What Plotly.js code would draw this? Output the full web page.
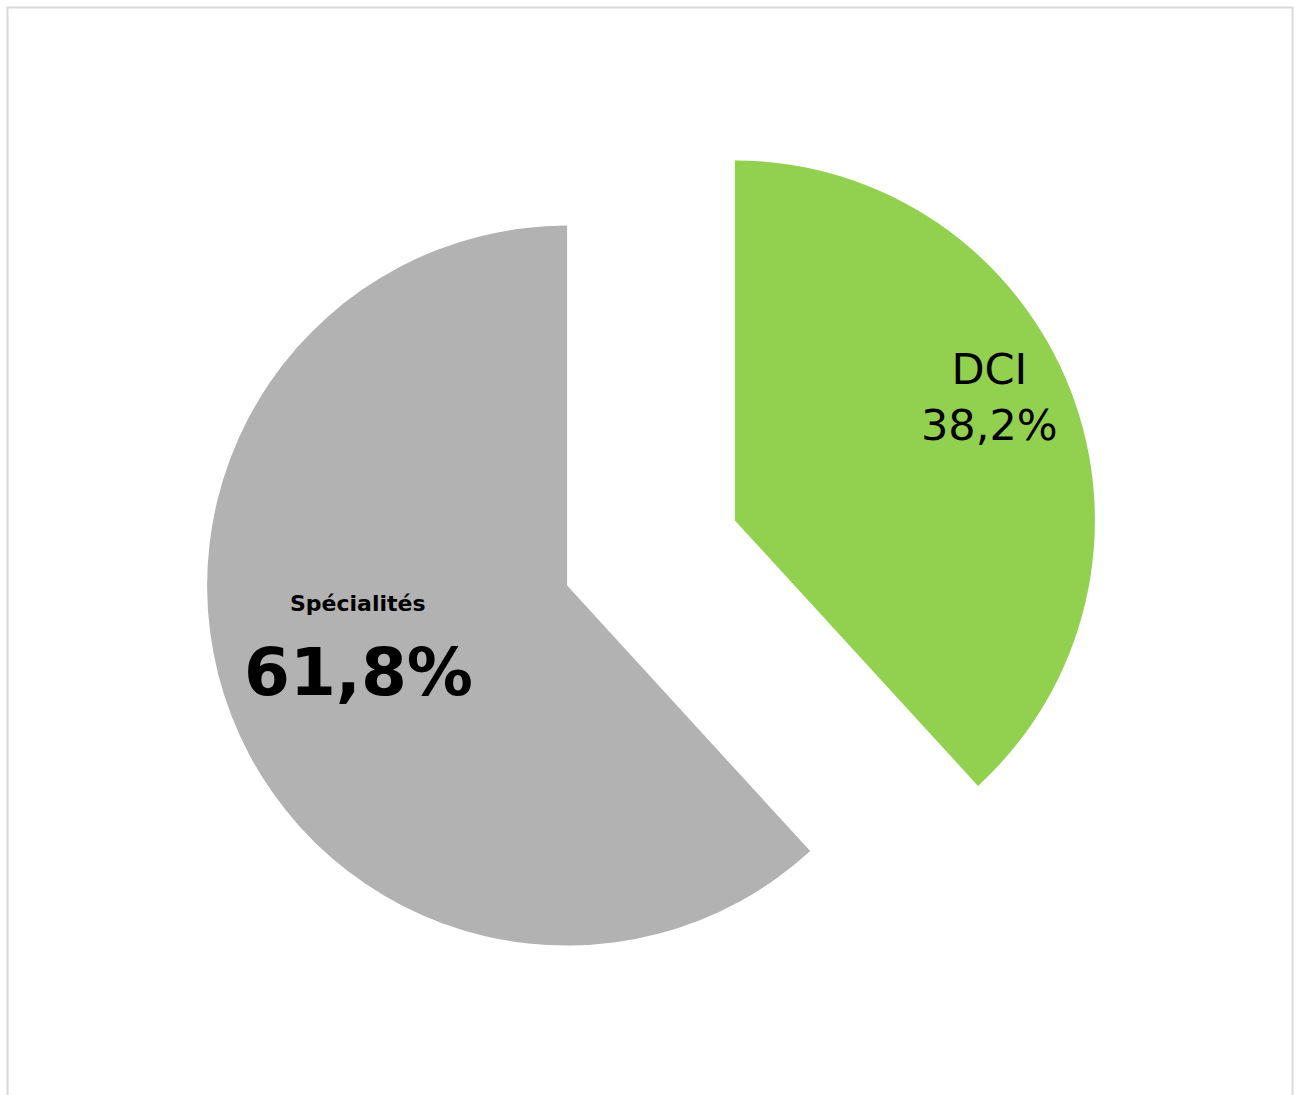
<!DOCTYPE html>
<html>
<head>
<meta charset="utf-8">
<script src="https://cdn.plot.ly/plotly-3.0.1.min.js"></script>
<style>html,body{margin:0;padding:0;background:#fff;}#chart{width:1301px;height:1095px;}</style>
</head>
<body>
<div id="chart"></div>
<script>
// Data
var labels = ['DCI', 'Spécialités'];
var values = [38.2, 61.8];
var valueText = ['38,2%', '61,8%'];
var colors = ['#92D050', '#B2B2B2'];

var W = 1301, H = 1095;
var M = {l: 201, r: 200, t: 103, b: 92};
var plotW = W - M.l - M.r, plotH = H - M.t - M.b;
function px(x) { return (x - M.l) / plotW; }
function py(y) { return (H - M.b - y) / plotH; }

var trace = {
  type: 'pie',
  labels: labels,
  values: values,
  sort: false,
  direction: 'clockwise',
  rotation: 0,
  pull: [0.25, 0.25],
  marker: {colors: colors, line: {width: 0}},
  textinfo: 'none',
  hoverinfo: 'label+percent',
  showlegend: false
};

var annotations = [
  {text: labels[0] + '<br>' + valueText[0], x: px(989), y: py(397), xref: 'paper', yref: 'paper',
   showarrow: false, xanchor: 'center', yanchor: 'middle',
   font: {family: 'DejaVu Sans, sans-serif', size: 43, color: '#000'}},
  {text: '<b>' + labels[1] + '</b>', x: px(358), y: py(603), xref: 'paper', yref: 'paper',
   showarrow: false, xanchor: 'center', yanchor: 'middle',
   font: {family: 'DejaVu Sans, sans-serif', size: 22, color: '#000'}},
  {text: '<b>' + valueText[1] + '</b>', x: px(358), y: py(672), xref: 'paper', yref: 'paper',
   showarrow: false, xanchor: 'center', yanchor: 'middle',
   font: {family: 'DejaVu Sans, sans-serif', size: 66, color: '#000'}}
];

var layout = {
  width: W, height: H,
  margin: M,
  paper_bgcolor: '#ffffff',
  plot_bgcolor: '#ffffff',
  showlegend: false,
  annotations: annotations,
  shapes: [{
    type: 'rect', xref: 'paper', yref: 'paper',
    x0: px(7.5), x1: px(1292.5), y0: py(1110), y1: py(7.5),
    line: {color: '#D9D9D9', width: 2}, fillcolor: 'rgba(0,0,0,0)', layer: 'below'
  }]
};

Plotly.newPlot('chart', [trace], layout, {displayModeBar: false, staticPlot: true});
</script>
</body>
</html>
